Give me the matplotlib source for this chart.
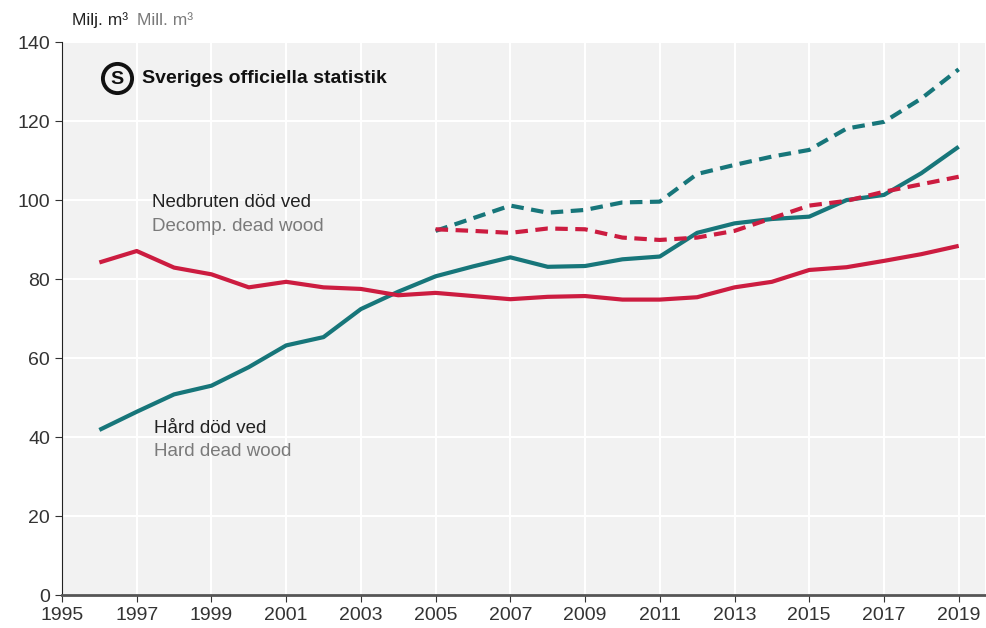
import matplotlib.pyplot as plt

# values, million m3
years_full = list(range(1996, 2020))
hard = [41.8, 46.4, 50.8, 53.0, 57.7, 63.2, 65.3, 72.4, 76.8, 80.7, 83.2, 85.5,
        83.1, 83.3, 85.0, 85.7, 91.7, 94.1, 95.2, 95.8, 100.0, 101.3, 106.8, 113.5]
decomp = [84.2, 87.1, 82.9, 81.2, 77.9, 79.3, 77.9, 77.5, 75.9, 76.5, 75.7, 74.9,
          75.5, 75.7, 74.8, 74.8, 75.4, 77.9, 79.3, 82.3, 83.0, 84.6, 86.3, 88.4]
years_new = list(range(2005, 2020))
hard_new = [92.2, 95.4, 98.6, 96.8, 97.5, 99.4, 99.6, 106.6, 108.9, 111.0, 112.7,
            118.1, 119.8, 125.7, 133.1]
decomp_new = [92.6, 92.2, 91.7, 92.8, 92.6, 90.5, 89.9, 90.5, 92.2, 95.4, 98.6,
              99.8, 102.1, 104.0, 105.9]
xticks = list(range(1995, 2020, 2))
yticks = list(range(0, 141, 20))

TEAL = "#17767a"
RED = "#cc1c40"
GRAY = "#7a7a7a"

plt.rcParams["font.family"] = ["Liberation Sans", "DejaVu Sans"]

fig = plt.figure(figsize=(9.87, 6.28), dpi=100)
ax = fig.add_axes([0.0628, 0.0525, 0.935, 0.8805])
ax.set_facecolor("#f2f2f2")

ax.plot(years_full, hard, color=TEAL, lw=3, solid_capstyle="butt")
ax.plot(years_full, decomp, color=RED, lw=3, solid_capstyle="butt")
ax.plot(years_new, hard_new, color=TEAL, lw=3, dashes=(3, 1.8), dash_capstyle="butt")
ax.plot(years_new, decomp_new, color=RED, lw=3, dashes=(3, 1.8), dash_capstyle="butt")

ax.set_xlim(1995, 2019.7)
ax.set_ylim(0, 140)
ax.set_xticks(xticks)
ax.set_yticks(yticks)
ax.grid(True, color="white", lw=1.5)
ax.set_axisbelow(True)
for s in ["top", "right"]:
    ax.spines[s].set_visible(False)
ax.spines["left"].set_color("#222222")
ax.spines["bottom"].set_color("#555555")
ax.spines["bottom"].set_linewidth(2)
ax.tick_params(direction="out", length=5, color="#333333", labelsize=14,
               labelcolor="#333333")

# unit label
fig.text(0.073, 0.955, "Milj. m³", fontsize=12.5, color="#222222", va="bottom")
fig.text(0.139, 0.955, "Mill. m³", fontsize=12.5, color=GRAY, va="bottom")

# logo
ax.plot([0.06], [0.935], "o", transform=ax.transAxes, ms=21, mfc="none",
        mec="#111111", mew=2.8, clip_on=False)
ax.text(0.06, 0.933, "S", transform=ax.transAxes, ha="center", va="center",
        fontsize=14, fontweight="bold", color="#111111")
ax.text(0.087, 0.935, "Sveriges officiella statistik", transform=ax.transAxes,
        ha="left", va="center", fontsize=14, fontweight="bold", color="#111111")

# series labels
ax.text(1997.4, 99.5, "Nedbruten död ved", fontsize=13.5, color="#222222", va="center")
ax.text(1997.4, 93.3, "Decomp. dead wood", fontsize=13.5, color=GRAY, va="center")
ax.text(1997.45, 42.2, "Hård död ved", fontsize=13.5, color="#222222", va="center")
ax.text(1997.45, 36.3, "Hard dead wood", fontsize=13.5, color=GRAY, va="center")

fig.savefig("out.png", dpi=100)
